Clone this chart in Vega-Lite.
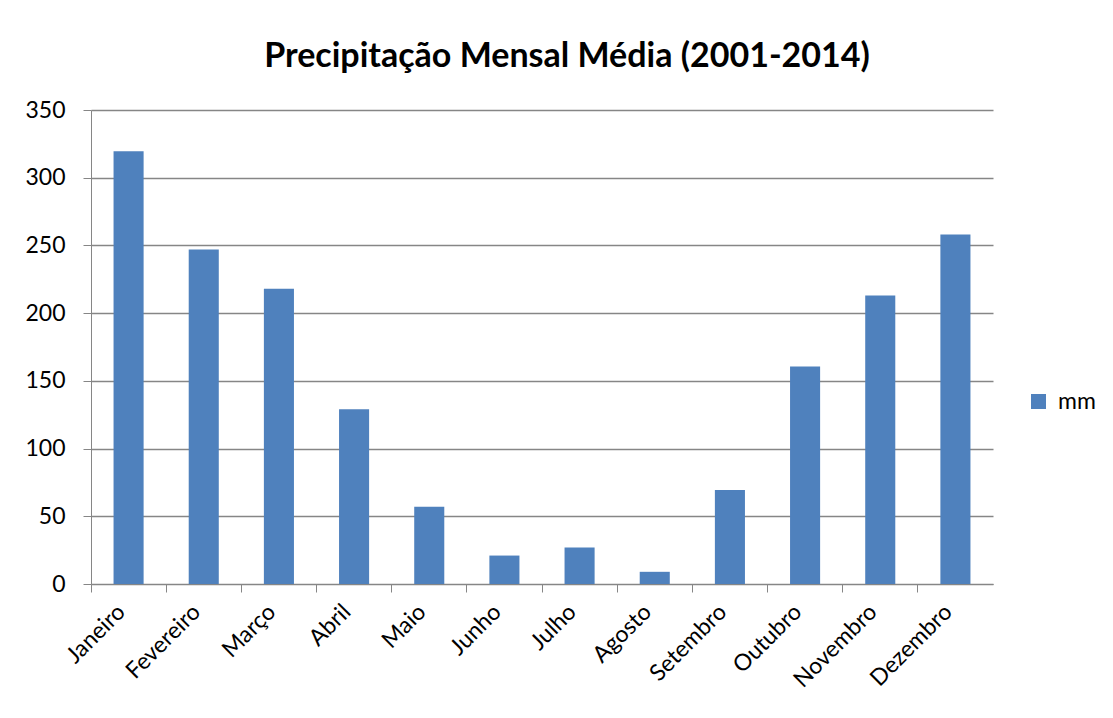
{
  "$schema": "https://vega.github.io/schema/vega-lite/v6.json",
  "width": 902,
  "height": 474,
  "autosize": {"type": "none"},
  "padding": {"left": 91, "top": 110, "right": 120, "bottom": 134},
  "background": "white",
  "title": {
    "text": "Precipitação Mensal Média (2001-2014)",
    "font": "Lato",
    "fontSize": 34,
    "fontWeight": "bold",
    "color": "black",
    "anchor": "middle",
    "dx": 25,
    "offset": 25
  },
  "data": {
    "values": [
      {"mes": "Janeiro", "mm": 319.5},
      {"mes": "Fevereiro", "mm": 247},
      {"mes": "Março", "mm": 218},
      {"mes": "Abril", "mm": 129},
      {"mes": "Maio", "mm": 57},
      {"mes": "Junho", "mm": 21},
      {"mes": "Julho", "mm": 27},
      {"mes": "Agosto", "mm": 9},
      {"mes": "Setembro", "mm": 69.5},
      {"mes": "Outubro", "mm": 160.6},
      {"mes": "Novembro", "mm": 213},
      {"mes": "Dezembro", "mm": 258}
    ]
  },
  "mark": {"type": "bar", "width": {"band": 0.4}},
  "encoding": {
    "x": {
      "field": "mes",
      "type": "nominal",
      "sort": null,
      "scale": {"paddingInner": 0, "paddingOuter": 0},
      "axis": {
        "title": null,
        "bandPosition": 0,
        "labelOffset": -7,
        "ticks": true,
        "tickSize": 8,
        "tickColor": "#868686",
        "domainColor": "#868686",
        "grid": false,
        "labelAngle": -45,
        "labelAlign": "right",
        "labelBaseline": "middle",
        "labelPadding": 16,
        "labelFont": "Lato",
        "labelFontSize": 23,
        "labelColor": "black"
      }
    },
    "y": {
      "field": "mm",
      "type": "quantitative",
      "scale": {"domain": [0, 350], "nice": false},
      "axis": {
        "title": null,
        "values": [0, 50, 100, 150, 200, 250, 300, 350],
        "tickSize": 8,
        "tickColor": "#868686",
        "domainColor": "#868686",
        "gridColor": "#868686",
        "gridWidth": 1.5,
        "labelPadding": 18,
        "labelFont": "Lato",
        "labelFontSize": 23,
        "labelColor": "black"
      }
    },
    "color": {
      "datum": "mm",
      "scale": {"range": ["#4F81BD"]},
      "legend": {
        "title": null,
        "orient": "none",
        "legendX": 936,
        "legendY": 280,
        "symbolType": "square",
        "symbolSize": 225,
        "symbolStrokeWidth": 0,
        "labelFont": "Lato",
        "labelFontSize": 23,
        "labelColor": "black",
        "labelOffset": 8
      }
    }
  },
  "config": {
    "view": {"stroke": null}
  }
}
